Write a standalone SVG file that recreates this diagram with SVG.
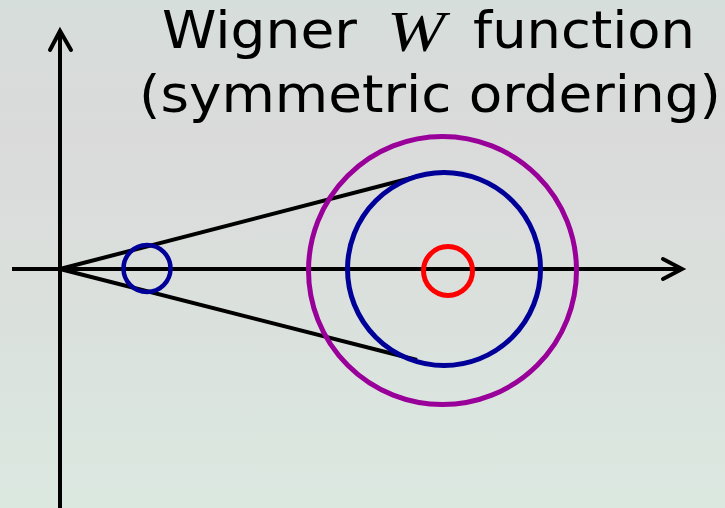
<svg xmlns="http://www.w3.org/2000/svg" width="725" height="508" viewBox="0 0 725 508">
  <defs>
    <linearGradient id="bg" x1="0" y1="0" x2="0" y2="1">
      <stop offset="0" stop-color="#d6dedb"/>
      <stop offset="0.26" stop-color="#dadada"/>
      <stop offset="1" stop-color="#dbe8e0"/>
    </linearGradient>
  </defs>
  <style>
    .t { font-family: "DejaVu Sans", "Liberation Sans", sans-serif; font-size: 51px; fill: #000; }
    .m { font-family: "Liberation Serif", "DejaVu Serif", serif; font-style: italic; font-size: 57px; fill: #000; }
    .ax { stroke: #000; stroke-width: 4; fill: none; stroke-linecap: butt; }
    .head { stroke: #000; stroke-width: 4; fill: none; stroke-linecap: round; stroke-linejoin: miter; }
    .ring { fill: none; }
  </style>
  <rect x="0" y="0" width="725" height="508" fill="url(#bg)"/>

  <g id="title">
    <text class="t" x="162" y="48" textLength="195" lengthAdjust="spacingAndGlyphs">Wigner</text>
    <text class="m" x="387" y="50.5" textLength="58" lengthAdjust="spacingAndGlyphs">W</text>
    <text class="t" x="473" y="48" textLength="222" lengthAdjust="spacingAndGlyphs">function</text>
    <text class="t" x="139" y="112" textLength="582" lengthAdjust="spacingAndGlyphs">(symmetric ordering)</text>
  </g>

  <g id="axes">
    <line class="ax" x1="60" y1="508" x2="60" y2="32"/>
    <polyline class="head" points="50,50 60,31 71,50"/>
    <line class="ax" x1="12" y1="269" x2="681" y2="269"/>
    <polyline class="head" points="663,259 682,269 663,279"/>
  </g>

  <g id="connectors">
    <line class="ax" x1="60" y1="269" x2="417" y2="176.5"/>
    <line class="ax" x1="60" y1="269" x2="417" y2="360"/>
  </g>

  <g id="small-blue-circle">
    <circle class="ring" cx="147" cy="268.5" r="23.5" stroke="#000099" stroke-width="4.5"/>
  </g>
  <g id="large-blue-circle">
    <circle class="ring" cx="444" cy="269" r="96.5" stroke="#000099" stroke-width="5"/>
  </g>
  <g id="purple-circle">
    <circle class="ring" cx="442.5" cy="270.5" r="134" stroke="#990099" stroke-width="5"/>
  </g>
  <g id="red-circle">
    <circle class="ring" cx="448" cy="271" r="24.5" stroke="#ff0000" stroke-width="5"/>
  </g>
</svg>
